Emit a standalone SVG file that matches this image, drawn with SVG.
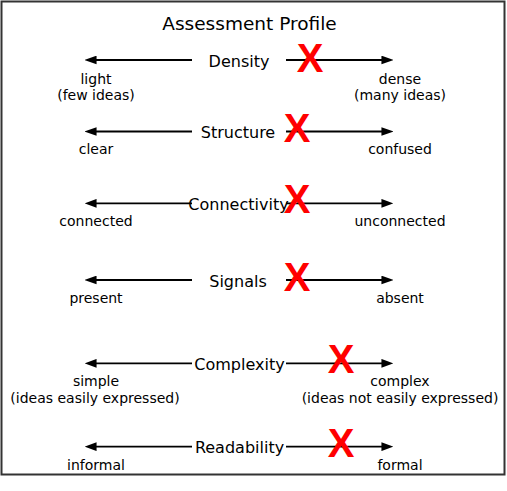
<svg xmlns="http://www.w3.org/2000/svg" width="507" height="491" viewBox="0 0 507 491">
<style>
text { font-family: "DejaVu Sans", Verdana, sans-serif; fill: #000; }
.title { font-size: 18.5px; text-anchor: middle; }
.lab { font-size: 16px; text-anchor: middle; }
.sub { font-size: 14px; text-anchor: middle; }
.x { font-family: "Liberation Sans", Arial, sans-serif; font-weight: bold; font-size: 40px; fill: #ff0000; text-anchor: middle; }
.arr { stroke: #000; stroke-width: 1.8; fill: none; marker-end: url(#ah); }
</style>
<defs>
<marker id="ah" markerUnits="userSpaceOnUse" markerWidth="12" markerHeight="9" refX="6" refY="4" orient="auto" viewBox="0 0 11 8">
<path d="M0,0 L11,4 L0,8 z" fill="#000"/>
</marker>
</defs>
<rect x="0" y="0" width="507" height="491" fill="#fff"/>
<rect x="1.5" y="1.5" width="503" height="473" fill="#fff" stroke="#333" stroke-width="2"/>
<g id="title"><text class="title" x="249.5" y="30">Assessment Profile</text></g>
<g id="connectors">
<line class="arr" x1="192" y1="60" x2="90" y2="60"/>
<line class="arr" x1="286" y1="60" x2="388" y2="60"/>
<line class="arr" x1="192" y1="131.5" x2="90" y2="131.5"/>
<line class="arr" x1="286" y1="131.5" x2="388" y2="131.5"/>
<line class="arr" x1="192" y1="203.3" x2="90" y2="203.3"/>
<line class="arr" x1="286" y1="203.3" x2="388" y2="203.3"/>
<line class="arr" x1="192" y1="280" x2="90" y2="280"/>
<line class="arr" x1="286" y1="280" x2="388" y2="280"/>
<line class="arr" x1="192" y1="363.3" x2="90" y2="363.3"/>
<line class="arr" x1="286" y1="363.3" x2="388" y2="363.3"/>
<line class="arr" x1="192" y1="446.7" x2="90" y2="446.7"/>
<line class="arr" x1="286" y1="446.7" x2="388" y2="446.7"/>
</g>
<g id="density">
<text class="lab" x="239" y="66.5">Density</text>
<text class="sub" x="96" y="83.5">light</text>
<text class="sub" x="96" y="100">(few ideas)</text>
<text class="sub" x="400" y="83.5">dense</text>
<text class="sub" x="400" y="100">(many ideas)</text>
<text class="x" x="310" y="72">X</text>
</g>
<g id="structure">
<text class="lab" x="238" y="137.5">Structure</text>
<text class="sub" x="96" y="154">clear</text>
<text class="sub" x="400" y="154">confused</text>
<text class="x" x="297" y="142">X</text>
</g>
<g id="connectivity">
<text class="lab" x="238.5" y="209.5">Connectivity</text>
<text class="sub" x="96" y="226">connected</text>
<text class="sub" x="400" y="226">unconnected</text>
<text class="x" x="297" y="213">X</text>
</g>
<g id="signals">
<text class="lab" x="238" y="286.5">Signals</text>
<text class="sub" x="96" y="302.7">present</text>
<text class="sub" x="400" y="302.7">absent</text>
<text class="x" x="297" y="291">X</text>
</g>
<g id="complexity">
<text class="lab" x="239.5" y="369.5">Complexity</text>
<text class="sub" x="96" y="386">simple</text>
<text class="sub" x="95" y="403">(ideas easily expressed)</text>
<text class="sub" x="400" y="386">complex</text>
<text class="sub" x="400" y="403">(ideas not easily expressed)</text>
<text class="x" x="341" y="373">X</text>
</g>
<g id="readability">
<text class="lab" x="239.5" y="453">Readability</text>
<text class="sub" x="96" y="469.5">informal</text>
<text class="sub" x="400" y="469.5">formal</text>
<text class="x" x="341" y="457">X</text>
</g>
</svg>
